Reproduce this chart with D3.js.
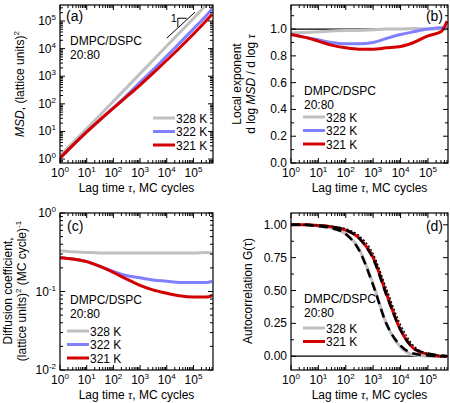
<!DOCTYPE html><html><head><meta charset="utf-8">
<script src="https://cdn.jsdelivr.net/npm/d3@7"></script>
<style>body{margin:0;background:#fff}text{font-family:"Liberation Sans",Arial,sans-serif}</style></head><body>
<svg id="s" width="450" height="403"></svg>
<script>
const tau=[1,3,10,30,100,300,1000,3000,1e4,3e4,1e5,3e5,5e5];
const msd328=[1.32,3.84,12.6,37.2,124,372,1240,3720,12400,37200,124000,378000,620000];
const msd322=[1.08,3.12,9.6,25.2,72,192,600,1680,5400,15600,52000,156000,270000];
const msd321=[1.08,3.12,9.6,25.2,70,174,480,1260,3800,10560,34000,102000,176000];
const exp328=[0.97,0.975,0.98,0.985,0.99,0.99,0.995,1.0,1.0,1.005,1.0,1.0,1.0];
const exp322=[0.96,0.94,0.92,0.90,0.89,0.89,0.90,0.93,0.96,0.98,1.0,1.01,1.01];
const exp321=[0.96,0.94,0.91,0.88,0.86,0.85,0.85,0.86,0.87,0.90,0.95,0.98,1.06];
const d328=[0.33,0.32,0.315,0.31,0.31,0.31,0.31,0.31,0.31,0.31,0.31,0.315,0.31];
const d322=[0.27,0.26,0.24,0.21,0.18,0.16,0.15,0.14,0.135,0.13,0.13,0.13,0.135];
const d321=[0.27,0.26,0.24,0.21,0.175,0.145,0.12,0.105,0.095,0.088,0.085,0.085,0.088];
const g328=[1,1,0.99,0.975,0.93,0.82,0.55,0.25,0.07,0.01,0,0,0];
const g321=[1,1,0.995,0.985,0.96,0.9,0.75,0.48,0.2,0.06,0.015,0,0];
const fit328=[1,1,0.99,0.975,0.93,0.81,0.54,0.25,0.08,0.02,0.005,0,0];
const fit321=[1,1,0.995,0.985,0.96,0.9,0.74,0.47,0.2,0.06,0.02,0.005,0];
const fit321b=[1,1,0.997,0.99,0.97,0.92,0.78,0.52,0.24,0.08,0.02,0.005,0];
const temps=["328 K","322 K","321 K"];
const cols=["#c0c0c0","#8080ff","#d40000"];
const svg=d3.select("#s");
const FS=12;
function sup(t,e){t.text("10");t.append("tspan").attr("dy",-5).attr("font-size",8).text(e);}
function panel(o){
 const g=svg.append("g");
 const x=d3.scaleLog().domain([1,5.4e5]).range([o.x0,o.x1]);
 const y=(o.log?d3.scaleLog():d3.scaleLinear()).domain(o.yd).range([o.y1,o.y0]);
 const clipId="c"+o.id;
 svg.append("clipPath").attr("id",clipId).append("rect").attr("x",o.x0).attr("y",o.y0).attr("width",o.x1-o.x0).attr("height",o.y1-o.y0);
 const pg=g.append("g").attr("clip-path",`url(#${clipId})`);
 const tk=g.append("g").attr("stroke","#000");
 for(let e=0;e<=5;e++){for(let m=1;m<10;m++){const v=m*10**e;if(v>5.4e5)continue;const L=m==1?5:3;const px=x(v);
  tk.append("line").attr("x1",px).attr("x2",px).attr("y1",o.y1).attr("y2",o.y1-L);
  tk.append("line").attr("x1",px).attr("x2",px).attr("y1",o.y0).attr("y2",o.y0+L);}
  g.append("text").attr("x",x(10**e)).attr("y",o.y1+14).attr("text-anchor","middle").attr("font-size",FS).call(t=>sup(t,e));}
 if(o.log){const [a,b]=o.yd.map(Math.log10);for(let e=Math.floor(a);e<=Math.ceil(b);e++){for(let m=1;m<10;m++){const v=m*10**e;if(v<o.yd[0]||v>o.yd[1])continue;const L=m==1?5:3;
   tk.append("line").attr("y1",y(v)).attr("y2",y(v)).attr("x1",o.x0).attr("x2",o.x0+L);
   tk.append("line").attr("y1",y(v)).attr("y2",y(v)).attr("x1",o.x1).attr("x2",o.x1-L);}
   if(10**e>=o.yd[0]*0.99&&10**e<=o.yd[1]*1.01) g.append("text").attr("x",o.x0-4).attr("y",y(10**e)+4).attr("text-anchor","end").attr("font-size",FS).call(t=>sup(t,e));}}
 else{o.yt.forEach((v,i)=>{tk.append("line").attr("y1",y(v)).attr("y2",y(v)).attr("x1",o.x0).attr("x2",o.x0+5);tk.append("line").attr("y1",y(v)).attr("y2",y(v)).attr("x1",o.x1).attr("x2",o.x1-5);
   g.append("text").attr("x",o.x0-4).attr("y",y(v)+4).attr("text-anchor","end").attr("font-size",FS).text(o.yfmt(v));});
   o.ym.forEach(v=>{tk.append("line").attr("y1",y(v)).attr("y2",y(v)).attr("x1",o.x0).attr("x2",o.x0+3);tk.append("line").attr("y1",y(v)).attr("y2",y(v)).attr("x1",o.x1).attr("x2",o.x1-3);});}
 const line=d3.line().x((d,i)=>x(tau[i])).y(d=>y(d)).curve(d3.curveMonotoneX);
 if(o.ref!==undefined)pg.append("line").attr("x1",o.x0).attr("x2",o.x1).attr("y1",y(o.ref)).attr("y2",y(o.ref)).attr("stroke","#000").attr("stroke-width",1.2);
 o.series.forEach((s,i)=>pg.append("path").attr("d",line(s.d)).attr("fill","none").attr("stroke",s.c).attr("stroke-width",s.w||3).attr("stroke-dasharray",s.dash||null));
 g.append("rect").attr("x",o.x0).attr("y",o.y0).attr("width",o.x1-o.x0).attr("height",o.y1-o.y0).attr("fill","none").attr("stroke","#000").attr("stroke-width",1.2);
 g.append("text").attr("x",(o.x0+o.x1)/2).attr("y",o.y1+29).attr("text-anchor","middle").attr("font-size",FS).call(t=>{t.text("Lag time ");t.append("tspan").attr("font-style","italic").attr("font-family","Liberation Serif").text("τ");t.append("tspan").text(", MC cycles");});
 g.append("text").attr("x",o.lx).attr("y",o.ly).attr("text-anchor",o.la).attr("font-size",14).text(o.label);
 g.append("text").attr("x",o.tx).attr("y",o.ty).attr("font-size",FS).text("DMPC/DSPC");
 g.append("text").attr("x",o.tx).attr("y",o.ty+14).attr("font-size",FS).text("20:80");
 o.leg.forEach((k,j)=>{const yy=o.legy+j*13.5;g.append("line").attr("x1",o.legx).attr("x2",o.legx+22).attr("y1",yy).attr("y2",yy).attr("stroke",cols[k]).attr("stroke-width",3);
  g.append("text").attr("x",o.legx+23).attr("y",yy+4.5).attr("font-size",FS).text(temps[k]);});
 return {x,y,g};
}
const A=panel({id:"a",x0:60,x1:213,y0:5,y1:163,log:true,yd:[0.72,3.8e5],series:[{d:msd328,c:cols[0]},{d:msd322,c:cols[1]},{d:msd321,c:cols[2]}],
 label:"(a)",lx:66,ly:21,la:"start",tx:70,ty:45,leg:[0,1,2],legx:153,legy:118});
{const {x,y,g}=A;
 g.append("line").attr("x1",x(1e4)).attr("y1",y(2.4e4)).attr("x2",x(1.15e5)).attr("y2",y(2.1e5)).attr("stroke","#000");
 g.append("polyline").attr("points",[[x(2.6e4),y(6e4)],[x(2.6e4),y(1.26e5)],[x(5.6e4),y(1.26e5)]].join(" ")).attr("fill","none").attr("stroke","#000");
 g.append("text").attr("x",x(2.6e4)-7).attr("y",y(1.26e5)+4).attr("font-size",11).text("1");
 g.append("text").attr("transform","translate(24,84) rotate(-90)").attr("text-anchor","middle").attr("font-size",FS).call(t=>{t.append("tspan").attr("font-style","italic").text("MSD");t.append("tspan").text(", (lattice units)");t.append("tspan").attr("dy",-5).attr("font-size",8).text("2");});}
const B=panel({id:"b",x0:291,x1:448,y0:5,y1:163,log:false,yd:[0,1.18],yt:[0,0.2,0.4,0.6,0.8,1.0],ym:[0.1,0.3,0.5,0.7,0.9,1.1],yfmt:d3.format(".1f"),ref:1.0,
 series:[{d:exp328,c:cols[0]},{d:exp322,c:cols[1]},{d:exp321,c:cols[2]}],label:"(b)",lx:443,ly:21,la:"end",tx:304,ty:95,leg:[0,1,2],legx:303,legy:117});
B.g.append("text").attr("transform","translate(241,84) rotate(-90)").attr("text-anchor","middle").attr("font-size",FS).text("Local exponent");
B.g.append("text").attr("transform","translate(255,84) rotate(-90)").attr("text-anchor","middle").attr("font-size",FS).call(t=>{t.text("d log ");t.append("tspan").attr("font-style","italic").text("MSD");t.append("tspan").text(" / d log ");t.append("tspan").attr("font-style","italic").attr("font-family","Liberation Serif").text("τ");});
const C=panel({id:"c",x0:60,x1:213,y0:213,y1:370,log:true,yd:[0.01,1],series:[{d:d328,c:cols[0]},{d:d322,c:cols[1]},{d:d321,c:cols[2]}],
 label:"(c)",lx:67,ly:231,la:"start",tx:70,ty:304,leg:[0,1,2],legx:67,legy:331});
C.g.append("text").attr("transform","translate(12,291) rotate(-90)").attr("text-anchor","middle").attr("font-size",FS).text("Diffusion coefficient,");
C.g.append("text").attr("transform","translate(26,291) rotate(-90)").attr("text-anchor","middle").attr("font-size",FS).call(t=>{t.text("(lattice units)");t.append("tspan").attr("dy",-5).attr("font-size",8).text("2");t.append("tspan").attr("dy",5).text(" (MC cycle)");t.append("tspan").attr("dy",-5).attr("font-size",8).text("-1");});
const D=panel({id:"d",x0:291,x1:448,y0:213,y1:370,log:false,yd:[-0.105,1.09],yt:[0,0.25,0.5,0.75,1.0],ym:[0.125,0.375,0.625,0.875],yfmt:d3.format(".2f"),ref:0,
 series:[{d:g328,c:cols[0]},{d:g321,c:cols[2]},{d:fit328,c:"#000",w:2.5,dash:"9,5"},{d:fit321,c:"#000",w:2.5,dash:"9,5"},{d:fit321b,c:"#000",w:1.3,dash:"2,2"}],
 label:"(d)",lx:443,ly:231,la:"end",tx:304,ty:303,leg:[0,2],legx:303,legy:328});
D.g.append("text").attr("transform","translate(252,291) rotate(-90)").attr("text-anchor","middle").attr("font-size",FS).text("Autocorrelation G(τ)");
</script></body></html>
